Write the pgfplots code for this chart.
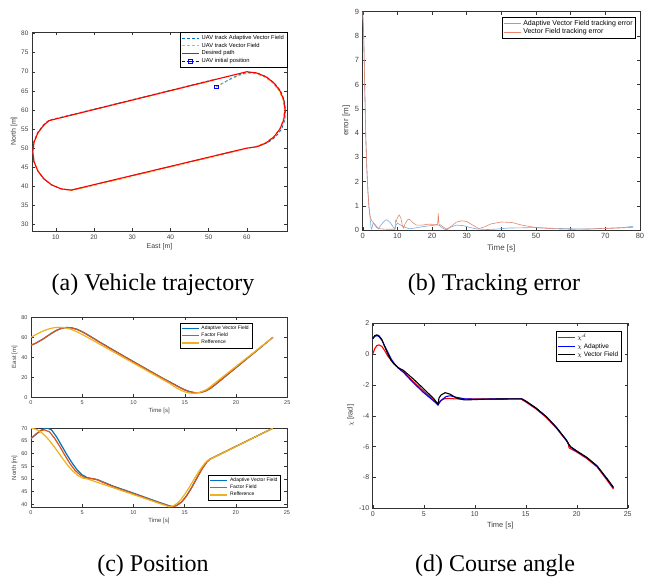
\documentclass[border=0pt]{standalone}
\usepackage{fontspec}
\setmainfont{Liberation Serif}
\newfontfamily\plotfont{Liberation Sans}
\usepackage{pgfplots}
\pgfplotsset{compat=1.18}
\definecolor{mblue}{RGB}{0,114,189}
\definecolor{morange}{RGB}{217,83,25}
\definecolor{myellow}{RGB}{237,177,32}
\definecolor{lblue}{RGB}{115,172,225}
\definecolor{lorange}{RGB}{232,135,108}
\definecolor{pred}{RGB}{255,0,0}
\definecolor{pblue}{RGB}{0,0,255}
\pgfplotsset{
  mat/.style={scale only axis, axis line style={black!80, line width=0.5pt},
    tick style={black!80, line width=0.4pt}, tick align=inside, major tick length=3pt,
    /pgf/number format/assume math mode=true,
    ticklabel style={text=black!75}, label style={text=black!75},
    legend cell align=left,
    legend style={draw=black, line width=0.4pt, fill=white, inner sep=1pt, row sep=-2pt},
  },
}
\begin{document}
\begin{tikzpicture}
\path[use as bounding box] (0pt,0pt) rectangle (662pt,578pt);

% ---------------- (a) trajectory
\begin{axis}[mat, at={(32pt,347pt)}, anchor=south west, width=255pt, height=199pt,
  xmin=3.8, xmax=70.5, ymin=28.3, ymax=80.4,
  xtick={10,20,...,60}, ytick={30,35,...,80},
  ticklabel style={font=\plotfont\fontsize{6.5}{7}\selectfont},
  label style={font=\plotfont\fontsize{7}{8}\selectfont},
  xlabel={East [m]}, ylabel={North [m]},
  xlabel style={yshift=3pt}, ylabel style={yshift=-3pt},
  legend style={font=\plotfont\fontsize{5.8}{6}\selectfont, at={(1,1)}, anchor=north east}]
\addplot[mblue, line width=0.8pt, dash pattern=on 3pt off 2pt] coordinates {
(52,66) (54,67.2) (56,68.3) (58,69.2) (60,69.8) (62.6,69.75) (65,68.75) (67.1,67.15)
(68.8,65.05) (69.8,62.6) (70.1,60) (69.95,57.4) (69.1,55.0) (67.6,53.0) (65.6,51.5)
(63.1,50.5) (60.3,50.0) (57,49.3) (40,45.2) (25,41.6) (14.2,39.0)
(11.5,39.3) (9,40.3) (6.9,41.9) (5.3,44) (4.3,46.4) (3.95,49) (4.25,51.6) (5.2,54)
(6.8,56.1) (8.2,57.3) (20,60.2) (35,63.9) (52,68.1)};
\addplot[myellow, line width=0.8pt, dash pattern=on 3pt off 2pt] coordinates {
(52,66) (54,67.1) (56,68.1) (58,69.0) (60,69.6) (62.5,69.5) (64.9,68.5) (66.9,66.9)
(68.5,64.9) (69.5,62.5) (69.8,60) (69.5,57.5) (68.6,55.1) (67.0,53.0) (65.0,51.5)
(62.5,50.5) (60,49.9) (57,49.1) (40,45.0) (25,41.4) (14.4,38.9)
(11.5,39.2) (9.1,40.3) (7.0,41.9) (5.4,44) (4.4,46.4) (4.05,49) (4.4,51.6) (5.4,54)
(7.0,56.0) (8.4,57.2) (20,60.0) (35,63.7) (52,67.9)};
\addplot[pred, line width=1.1pt] coordinates {
(60,70) (62.59,69.66) (65,68.66) (67.07,67.07) (68.66,65) (69.66,62.59) (70,60)
(69.66,57.41) (68.66,55) (67.07,52.93) (65,51.34) (62.59,50.34) (60,50)
(14,39) (11.41,39.34) (9,40.34) (6.93,41.93) (5.34,44) (4.34,46.41) (4,49)
(4.34,51.59) (5.34,54) (6.93,56.07) (8.26,57.19) (60,70)};
\addplot[pblue, line width=0.8pt, dash pattern=on 3pt off 1.5pt on 0.8pt off 1.5pt, mark=square, mark size=1.8pt, mark options={solid, pblue, line width=0.8pt}] coordinates {(52,66)};
\legend{UAV track Adaptive Vector Field, UAV track Vector Field, Desired path, UAV initial position}
\end{axis}

% ---------------- (b) tracking error
\begin{axis}[mat, at={(362.7pt,348pt)}, anchor=south west, width=277.3pt, height=218.3pt,
  xmin=0, xmax=80, ymin=0, ymax=9,
  xtick={0,10,...,80}, ytick={0,1,...,9},
  ticklabel style={font=\plotfont\fontsize{7.5}{8}\selectfont},
  label style={font=\plotfont\fontsize{8}{9}\selectfont},
  xlabel={Time [s]}, ylabel={error [m]},
  xlabel style={yshift=1pt}, ylabel style={yshift=-2pt},
  legend style={font=\plotfont\fontsize{7}{8}\selectfont, at={(0.985,0.975)}, anchor=north east}]
\addplot[lblue, line width=0.6pt] coordinates {
(0,9) (0.3,8.0) (0.6,5.8) (0.9,3.8) (1.2,2.5) (1.5,1.6) (1.8,0.95) (2.1,0.55) (2.4,0.1)
(2.6,0.04) (3.0,0.28) (3.5,0.24) (4.5,0.05) (5.5,0.25) (6.5,0.4) (7,0.42) (8,0.3)
(9,0.08) (9.3,0.02) (9.6,0.2) (10,0.28) (11,0.2) (12,0.12) (13.5,0.05) (15,0.08)
(17,0.13) (19,0.17) (21,0.2) (22,0.2) (23,0.08) (24,0.01) (25,0.1) (27,0.2) (29,0.18)
(31,0.1) (33,0.04) (36,0.02) (38,0.03) (42,0.08) (46,0.09) (50,0.1) (55,0.07) (60,0.05)
(65,0.04) (70,0.07) (75,0.1) (78,0.15)};
\addplot[lorange, line width=0.6pt] coordinates {
(0,9) (0.3,8.0) (0.6,5.8) (0.9,3.8) (1.2,2.5) (1.5,1.6) (1.8,0.95) (2.1,0.6) (2.5,0.4)
(3.0,0.32) (3.5,0.2) (4.0,0.1) (5,0.05) (6,0.04) (7,0.03) (8,0.03) (9,0.03) (9.3,0.05)
(9.5,0.4) (9.7,0.35) (10,0.5) (10.5,0.62) (11,0.5) (11.5,0.15) (11.8,0.08) (12.2,0.25)
(13,0.43) (13.5,0.44) (14.5,0.3) (15.5,0.2) (17,0.2) (19,0.24) (21,0.23) (21.6,0.22)
(21.8,0.68) (22.0,0.25) (22.5,0.2) (23.5,0.1) (24.5,0.02) (25.5,0.15) (27,0.32)
(28.5,0.38) (30,0.35) (32,0.18) (33.5,0.06) (35,0.12) (37,0.25) (40,0.33) (43,0.31)
(46,0.2) (50,0.1) (55,0.05) (60,0.03) (65,0.04) (70,0.06) (75,0.09) (78,0.11)};
\legend{Adaptive Vector Field tracking error, Vector Field tracking error}
\end{axis}

% ---------------- (c) top: East
\begin{axis}[mat, at={(31pt,180.7pt)}, anchor=south west, width=256.3pt, height=80pt,
  xmin=0, xmax=25, ymin=0, ymax=80,
  xtick={0,5,...,25}, ytick={0,20,...,80},
  ticklabel style={font=\plotfont\fontsize{5.5}{6}\selectfont},
  label style={font=\plotfont\fontsize{6}{7}\selectfont},
  xlabel={Time [s]}, ylabel={East [m]},
  xlabel style={yshift=3pt}, ylabel style={yshift=-3pt},
  legend style={font=\plotfont\fontsize{5}{6}\selectfont, at={(0.862,0.93)}, anchor=north east},
  legend image post style={line width=1.4pt}]
\addplot[mblue, line width=1.2pt] coordinates {
(0,52) (0.5,54.3) (1,57.2) (1.5,60.5) (2,64) (2.5,67) (3,69.1) (3.5,69.8) (4,69.4)
(4.5,68) (5,65.6) (5.5,62.7) (6,59.6) (7,53.4) (9,41.5) (11,29.8) (13,18.2) (13.5,15.6)
(14,12.8) (14.5,10) (15,7.5) (15.5,5.6) (16,4.6) (16.5,4.7) (17,6.1) (17.5,8.9)
(18,12.8) (23.6,60)};
\addplot[morange, line width=1.2pt] coordinates {
(0,52) (0.5,54.3) (1,57.2) (1.5,60.5) (2,64) (2.5,67) (3,69.1) (3.5,69.8) (4,69.3)
(4.5,67.8) (5,65.4) (5.5,62.5) (6,59.4) (7,53.2) (9,41.3) (11,29.6) (13,18) (13.5,15.4)
(14,12.6) (14.5,9.8) (15,7.3) (15.5,5.4) (16,4.5) (16.5,4.7) (17,6.2) (17.5,9.0)
(18,13) (23.6,60)};
\addplot[myellow, line width=1.2pt] coordinates {
(0,60) (0.458,62.59) (0.917,65) (1.375,67.07) (1.833,68.66) (2.292,69.66) (2.75,70)
(3.208,69.66) (3.667,68.66) (4.125,67.07) (4.583,65) (5.042,62.59) (5.5,60) (13.5,14)
(13.883,11.41) (14.266,9) (14.648,6.93) (15.031,5.34) (15.414,4.34) (15.797,4)
(16.179,4.34) (16.562,5.34) (16.945,6.93) (17.2,8.26) (23.6,60)};
\legend{Adaptive Vector Field, Factor Field, Refference}
\end{axis}

% ---------------- (c) bottom: North
\begin{axis}[mat, at={(31pt,70.7pt)}, anchor=south west, width=256pt, height=79pt,
  xmin=0, xmax=25, ymin=38.8, ymax=70,
  xtick={0,5,...,25}, ytick={40,45,...,70},
  ticklabel style={font=\plotfont\fontsize{5.5}{6}\selectfont},
  label style={font=\plotfont\fontsize{6}{7}\selectfont},
  xlabel={Time [s]}, ylabel={North [m]},
  xlabel style={yshift=3pt}, ylabel style={yshift=-3pt},
  legend style={font=\plotfont\fontsize{5}{6}\selectfont, at={(0.975,0.41)}, anchor=north east},
  legend image post style={line width=1.4pt}]
\addplot[mblue, line width=1.2pt] coordinates {
(0,66) (0.5,67.6) (1,69.3) (1.5,70.2) (2,69.4) (2.5,66.6) (3,63.1) (3.5,59.6) (4,56.4)
(4.5,53.6) (5,51.6) (5.5,50.5) (6,50.1) (6.5,49.7) (8,47.2) (10,44.4) (12,41.5)
(13.5,39.4) (13.8,39.1) (14.2,39.5) (14.7,40.9) (15.2,43.4) (15.7,46.7) (16.2,50.4)
(16.7,54) (17.2,56.9) (17.5,57.9) (23.6,70)};
\addplot[morange, line width=1.2pt] coordinates {
(0,66) (0.5,67.8) (1,69.1) (1.3,69.4) (1.8,68.6) (2.3,66.1) (2.8,62.9) (3.3,59.4)
(3.8,56.1) (4.3,53.4) (4.8,51.6) (5.3,50.5) (5.8,50.1) (6.1,50.1) (6.5,49.6) (8,47.0)
(10,44.2) (12,41.3) (13.5,39.3) (13.8,39.05) (14.2,39.4) (14.7,40.8) (15.2,43.3)
(15.7,46.6) (16.2,50.3) (16.7,53.9) (17.2,56.8) (17.5,57.8) (23.6,70)};
\addplot[myellow, line width=1.2pt] coordinates {
(0,70) (0.458,69.66) (0.917,68.66) (1.375,67.07) (1.833,65) (2.292,62.59) (2.75,60)
(3.208,57.41) (3.667,55) (4.125,52.93) (4.583,51.34) (5.042,50.34) (5.5,50) (13.5,39)
(13.883,39.34) (14.266,40.34) (14.648,41.93) (15.031,44) (15.414,46.41) (15.797,49)
(16.179,51.59) (16.562,54) (16.945,56.07) (17.2,57.19) (23.6,70)};
\legend{Adaptive Vector Field, Factor Field, Refference}
\end{axis}

% ---------------- (d) course angle
\begin{axis}[mat, at={(372.7pt,69.7pt)}, anchor=south west, width=255pt, height=185pt,
  xmin=0, xmax=25, ymin=-10, ymax=2,
  xtick={0,5,...,25}, ytick={-10,-8,...,2},
  ticklabel style={font=\plotfont\fontsize{7}{8}\selectfont},
  label style={font=\plotfont\fontsize{7.5}{8}\selectfont},
  xlabel={Time [s]}, ylabel={$\chi$ [rad]},
  xlabel style={yshift=2pt}, ylabel style={yshift=-2pt},
  legend style={font=\plotfont\fontsize{6.5}{7}\selectfont, at={(0.975,0.96)}, anchor=north east},
  legend image post style={line width=1.4pt}]
\addplot[pred, line width=1.1pt] coordinates {
(0,0) (0.2,0.35) (0.4,0.55) (0.6,0.6) (0.9,0.5) (1.2,0.2) (1.5,-0.15) (2,-0.55)
(2.5,-0.88) (3,-1.15) (4,-1.78) (5,-2.4) (6,-3.0) (6.4,-3.22) (6.6,-3.05) (7,-2.9)
(7.5,-2.87) (8,-2.9) (9,-2.92) (10,-2.9) (12,-2.9) (14.6,-2.9) (14.7,-2.98) (15,-3.1)
(16,-3.55) (17,-4.1) (18,-4.8) (19,-5.62) (19.15,-5.75) (19.25,-6.08) (20,-6.35)
(21,-6.78) (22,-7.32) (23,-8.2) (23.6,-8.75)};
\addplot[pblue, line width=1.1pt] coordinates {
(0,1.0) (0.2,1.15) (0.4,1.2) (0.6,1.15) (0.9,0.9) (1.2,0.5) (1.5,0.1) (1.8,-0.3)
(2.1,-0.6) (2.5,-0.9) (3,-1.17) (4,-1.87) (5,-2.5) (6,-3.05) (6.4,-3.3) (6.7,-3.0)
(7.2,-2.75) (7.6,-2.7) (8.2,-2.8) (9,-2.9) (10,-2.92) (14.6,-2.9) (15,-3.05) (16,-3.5)
(17,-4.05) (18,-4.75) (19,-5.6) (19.2,-5.85) (19.4,-6.03) (20,-6.3) (21,-6.72)
(22,-7.27) (23,-8.12) (23.6,-8.66)};
\addplot[black, line width=1.1pt] coordinates {
(0,1.0) (0.2,1.2) (0.4,1.25) (0.6,1.2) (0.9,0.95) (1.2,0.45) (1.5,0.0) (1.8,-0.4)
(2.1,-0.65) (2.5,-0.88) (3,-1.05) (4,-1.62) (5,-2.25) (6,-2.9) (6.4,-3.25) (6.5,-2.85)
(6.7,-2.65) (7.1,-2.5) (7.6,-2.6) (8.2,-2.85) (9,-2.97) (10,-2.95) (11,-2.92)
(14.6,-2.9) (15,-3.04) (16,-3.49) (17,-4.04) (18,-4.74) (19,-5.58) (19.2,-5.82)
(19.4,-6.0) (20,-6.28) (21,-6.7) (22,-7.25) (23,-8.1) (23.6,-8.64)};
\legend{$\chi^d$, $\chi$ Adaptive, $\chi$ Vector Field}
\end{axis}

% ---------------- captions
\node[font=\fontsize{24}{28}\selectfont] at (153pt,293pt) {(a) Vehicle trajectory};
\node[font=\fontsize{24}{28}\selectfont] at (494pt,293pt) {(b) Tracking error};
\node[font=\fontsize{24}{28}\selectfont] at (153pt,12pt) {(c) Position};
\node[font=\fontsize{24}{28}\selectfont] at (495pt,12pt) {(d) Course angle};
\end{tikzpicture}
\end{document}
